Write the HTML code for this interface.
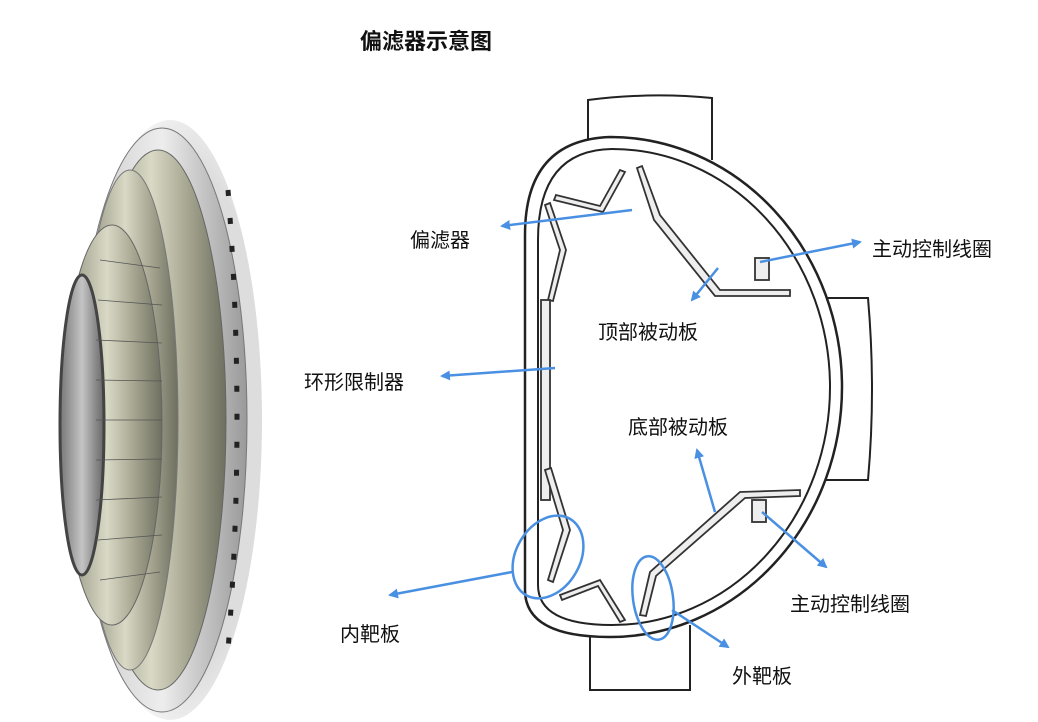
<!DOCTYPE html>
<html><head><meta charset="utf-8"><style>
html,body{margin:0;padding:0;background:#fff;}
body{width:1038px;height:722px;overflow:hidden;position:relative;font-family:"Liberation Sans","Noto Sans CJK SC",sans-serif;}
.t{position:absolute;font-size:20px;color:#111;white-space:nowrap;}
</style></head><body>
<svg width="1038" height="722" style="position:absolute;left:0;top:0">
<defs>
<linearGradient id="g1" x1="0" x2="1"><stop offset="0" stop-color="#8a8a78"/><stop offset=".45" stop-color="#d9d9c6"/><stop offset=".7" stop-color="#a9a994"/><stop offset="1" stop-color="#6f6f60"/></linearGradient>
<linearGradient id="g2" x1="0" x2="1"><stop offset="0" stop-color="#c8c8c8"/><stop offset=".5" stop-color="#ededed"/><stop offset="1" stop-color="#9a9a9a"/></linearGradient>
<linearGradient id="g3" x1="0" x2="1"><stop offset="0" stop-color="#777"/><stop offset=".5" stop-color="#c4c4c4"/><stop offset="1" stop-color="#666"/></linearGradient>
<radialGradient id="sh" cx=".6" cy=".5" r=".6"><stop offset=".7" stop-color="#ddd"/><stop offset="1" stop-color="#fff"/></radialGradient>
<marker id="ar" markerWidth="10" markerHeight="10" refX="8" refY="5" orient="auto" markerUnits="userSpaceOnUse"><path d="M0,0 L10,5 L0,10 z" fill="#4a90e2"/></marker>
</defs>
<!-- torus -->
<ellipse cx="170" cy="420" rx="92" ry="300" fill="url(#sh)"/>
<ellipse cx="162" cy="420" rx="85" ry="292" fill="url(#g2)" stroke="#777"/>
<ellipse cx="158" cy="420" rx="68" ry="270" fill="url(#g1)" stroke="#666"/>
<g stroke="#222" stroke-width="5" stroke-dasharray="6 22">
<path d="M228 190 Q246 420 228 650" fill="none"/></g>
<ellipse cx="130" cy="420" rx="48" ry="250" fill="url(#g1)" stroke="#777"/>
<ellipse cx="112" cy="425" rx="50" ry="200" fill="url(#g1)" stroke="#666"/>
<ellipse cx="82" cy="425" rx="22" ry="150" fill="url(#g3)" stroke="#444" stroke-width="3"/>
<g stroke="#555" stroke-width=".8">
<line x1="100" y1="260" x2="160" y2="268"/><line x1="98" y1="300" x2="162" y2="305"/><line x1="96" y1="340" x2="162" y2="343"/><line x1="96" y1="380" x2="162" y2="381"/><line x1="96" y1="420" x2="162" y2="420"/><line x1="96" y1="460" x2="162" y2="459"/><line x1="96" y1="500" x2="162" y2="497"/><line x1="98" y1="540" x2="162" y2="535"/><line x1="100" y1="580" x2="160" y2="572"/>
</g>
<!-- vessel -->
<g fill="#fff" stroke="#222" stroke-width="2">
<path d="M588 152 V100 Q650 92 712 98 V160"/>
<path d="M820 298 H868 Q876 390 868 480 H820"/>
<path d="M590 625 V690 H690 V625"/>
</g>
<path d="M525 590 V235 Q525 140 610 137 A232 250 0 0 1 610 637 Q525 637 525 590 Z" fill="#fff" stroke="#222" stroke-width="2.5"/>
<path d="M538 585 V240 Q538 150 612 149 A218 238 0 0 1 612 625 Q538 625 538 585 Z" fill="#fff" stroke="#222" stroke-width="2"/>
<g fill="#eee" stroke="#333" stroke-width="1.8">
<path d="M545 205 L560 250 L548 300 L553 301 L566 250 L550 203 Z"/>
<rect x="541" y="300" width="9" height="200"/>
<path d="M545 470 L563 530 L548 580 L553 582 L570 530 L551 468 Z"/>
<path d="M556 195 L600 206 L620 170 L625 172 L603 212 L554 200 Z"/>
<path d="M642 166 L660 215 L720 290 L790 290 L790 296 L715 296 L654 220 L637 168 Z"/>
<path d="M560 595 L600 580 L625 620 L620 622 L598 586 L562 600 Z"/>
<path d="M640 615 L650 572 L740 492 L800 490 L800 496 L745 498 L656 576 L646 616 Z"/>
<rect x="755" y="258" width="14" height="22"/>
<rect x="752" y="500" width="14" height="22"/>
</g>
<g stroke="#4a90e2" stroke-width="2.5" fill="none">
<line x1="632" y1="210" x2="502" y2="226" marker-end="url(#ar)"/>
<line x1="760" y1="262" x2="860" y2="242" marker-end="url(#ar)"/>
<line x1="718" y1="268" x2="692" y2="300" marker-end="url(#ar)"/>
<line x1="555" y1="368" x2="442" y2="376" marker-end="url(#ar)"/>
<line x1="715" y1="512" x2="697" y2="450" marker-end="url(#ar)"/>
<line x1="762" y1="512" x2="826" y2="567" marker-end="url(#ar)"/>
<line x1="512" y1="572" x2="390" y2="595" marker-end="url(#ar)"/>
<line x1="672" y1="610" x2="728" y2="647" marker-end="url(#ar)"/>
<ellipse cx="548" cy="557" rx="32" ry="44" transform="rotate(30 548 557)"/>
<ellipse cx="653" cy="598" rx="20" ry="42" transform="rotate(-8 653 598)"/>
</g>
</svg>
<div class="t" style="left:360px;top:24px;font-size:22px;font-weight:bold">偏滤器示意图</div>
<div class="t" style="left:410px;top:224px">偏滤器</div>
<div class="t" style="left:872px;top:233px">主动控制线圈</div>
<div class="t" style="left:598px;top:316px">顶部被动板</div>
<div class="t" style="left:304px;top:366px">环形限制器</div>
<div class="t" style="left:628px;top:411px">底部被动板</div>
<div class="t" style="left:790px;top:588px">主动控制线圈</div>
<div class="t" style="left:340px;top:618px">内靶板</div>
<div class="t" style="left:732px;top:660px">外靶板</div>
</body></html>
